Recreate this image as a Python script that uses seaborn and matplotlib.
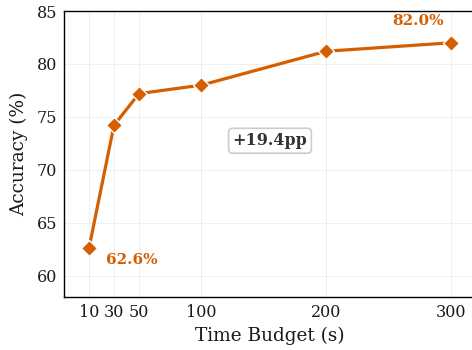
import matplotlib
matplotlib.use("Agg")
import matplotlib.pyplot as plt
import seaborn as sns
import pandas as pd

# Data
budgets = [10, 30, 50, 100, 200, 300]
accuracy = [62.6, 74.2, 77.2, 78.0, 81.2, 82.0]
gain_label = "+19.4pp"
color = "#d55e00"

df = pd.DataFrame({"budget": budgets, "acc": accuracy})

sns.set_style("whitegrid")
plt.rcParams["font.family"] = ["DejaVu Serif"]
plt.rcParams["text.color"] = "#1a1a1a"
plt.rcParams["axes.labelcolor"] = "#1a1a1a"
plt.rcParams["xtick.color"] = "#1a1a1a"
plt.rcParams["ytick.color"] = "#1a1a1a"

fig = plt.figure(figsize=(4.72, 3.5), dpi=100)
ax = fig.add_axes([64 / 472, 53 / 350, 412 / 472, 286 / 350])

sns.lineplot(data=df, x="budget", y="acc", ax=ax, color=color, linewidth=2.3,
             marker="D", markersize=8, markeredgecolor="white", markeredgewidth=1.0)

ax.set_xlim(-10, 320)
ax.set_ylim(58, 85)
ax.set_xticks(budgets)
ax.set_yticks([60, 65, 70, 75, 80, 85])
ax.tick_params(direction="in", labelsize=11.5, length=4, color="black", width=0.8, pad=5)
ax.set_xlabel("Time Budget (s)", fontsize=13.3, labelpad=4)
ax.set_ylabel("Accuracy (%)", fontsize=13.3, labelpad=6)
ax.grid(True, color="#ececec", linewidth=0.6)

for side in ["left", "bottom", "top"]:
    ax.spines[side].set_color("black")
    ax.spines[side].set_linewidth(1.0)
ax.spines["right"].set_visible(False)

# Annotations
ax.text(44.5, 61.5, f"{accuracy[0]:.1f}%", color=color, fontsize=11,
        fontweight="bold", ha="center", va="center")
ax.text(273.5, 84.1, f"{accuracy[-1]:.1f}%", color=color, fontsize=11,
        fontweight="bold", ha="center", va="center")
ax.text(155, 72.75, gain_label, color="#333333", fontsize=11.5, fontweight="bold",
        ha="center", va="center",
        bbox=dict(boxstyle="round,pad=0.25", facecolor="white", edgecolor="#cccccc", linewidth=1.2))

fig.savefig("out.png", dpi=100)
